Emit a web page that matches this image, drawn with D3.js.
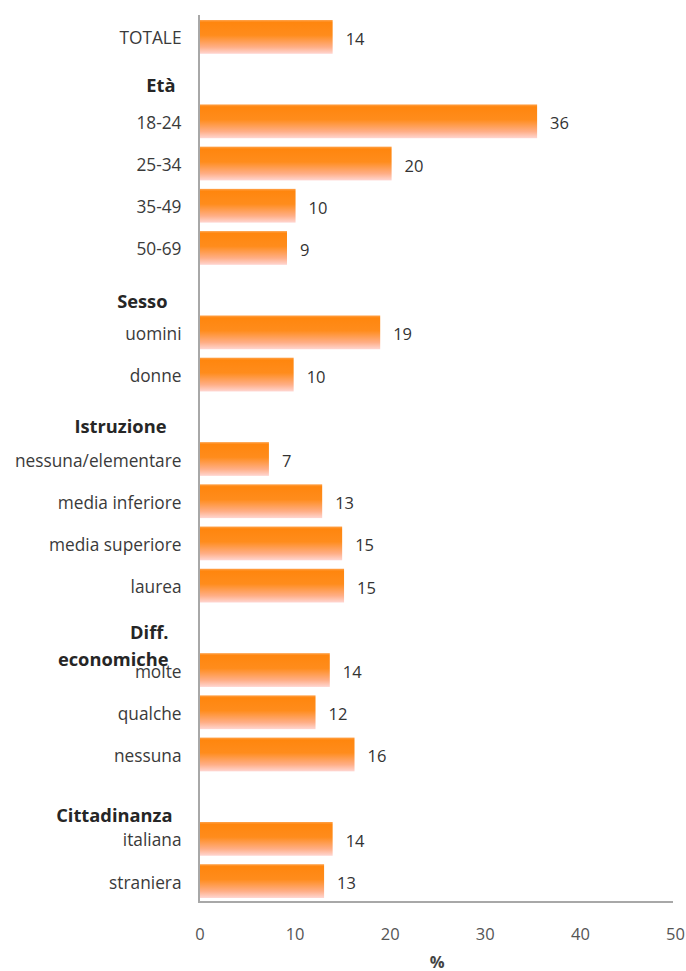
<!DOCTYPE html>
<html>
<head>
<meta charset="utf-8">
<script src="https://cdn.jsdelivr.net/npm/d3@7"></script>
<style>
  html, body { margin: 0; padding: 0; background: #fff; }
  svg { display: block; }
  text { font-family: "Open Sans", "DejaVu Sans", sans-serif; }
</style>
</head>
<body>
<div id="chart"></div>
<script>
// ---- data ----
const rows = ["TOTALE", "Età", "18-24", "25-34", "35-49", "50-69", "Sesso", "uomini", "donne",
  "Istruzione", "nessuna/elementare", "media inferiore", "media superiore", "laurea",
  "Diff. economiche", "molte", "qualche", "nessuna ", "Cittadinanza", "italiana", "straniera"];
const headers = ["Età", "Sesso", "Istruzione", "Diff. economiche", "Cittadinanza"];
const categories = ["TOTALE", "18-24", "25-34", "35-49", "50-69", "uomini", "donne",
  "nessuna/elementare", "media inferiore", "media superiore", "laurea",
  "molte", "qualche", "nessuna ", "italiana", "straniera"];
const values = [14.0, 35.5, 20.2, 10.1, 9.2, 19.0, 9.9, 7.3, 12.9, 15.0, 15.2, 13.7, 12.2, 16.3, 14.0, 13.1];
const valueLabels = ["14", "36", "20", "10", "9", "19", "10", "7", "13", "15", "15", "14", "12", "16", "14", "13"];
const xTicks = [0, 10, 20, 30, 40, 50];
const axisTitle = "%";

// ---- layout ----
const W = 686, H = 971;
const svg = d3.select("#chart").append("svg").attr("width", W).attr("height", H);

const x = d3.scaleLinear().domain([0, 50]).range([199.5, 675]);
const y = d3.scaleBand().domain(rows).range([15.8, 902.2]).paddingInner(0.2).paddingOuter(0.1);

const defs = svg.append("defs");
const grad = defs.append("linearGradient").attr("id", "barGrad")
  .attr("x1", 0).attr("y1", 0).attr("x2", 0).attr("y2", 1);
grad.append("stop").attr("offset", "0").attr("stop-color", "#ffa24a");
grad.append("stop").attr("offset", "0.07").attr("stop-color", "#ff860e");
grad.append("stop").attr("offset", "0.45").attr("stop-color", "#ff8c1c");
grad.append("stop").attr("offset", "0.8").attr("stop-color", "#ffae86");
grad.append("stop").attr("offset", "1").attr("stop-color", "#ffd6d2");

const data = categories.map((c, i) => ({ c, v: values[i], l: valueLabels[i] }));

// bars
svg.append("g").selectAll("rect").data(data).join("rect")
  .attr("x", x(0))
  .attr("y", d => y(d.c))
  .attr("width", d => x(d.v) - x(0))
  .attr("height", y.bandwidth())
  .attr("fill", "url(#barGrad)");

// value labels
svg.append("g").selectAll("text").data(data).join("text")
  .attr("x", d => x(d.v) + 13)
  .attr("y", d => y(d.c) + y.bandwidth() / 2 + 1.5)
  .attr("dominant-baseline", "central")
  .attr("font-size", 16.5)
  .attr("fill", "#333")
  .text(d => d.l);

// category labels
svg.append("g").selectAll("text").data(categories).join("text")
  .attr("x", x(0) - 18)
  .attr("y", d => y(d) + y.bandwidth() / 2 + 1)
  .attr("text-anchor", "end")
  .attr("dominant-baseline", "central")
  .attr("font-size", 17.3)
  .attr("fill", "#3a3a3a")
  .text(d => d.trim());

// header labels (slightly offset text boxes as in the original)
const headerNudge = {
  "Età": { dx: -6, dy: 5 },
  "Sesso": { dx: -14, dy: 10 },
  "Istruzione": { dx: -15, dy: 8 },
  "Diff. economiche": { dx: -13, dy: 3 },
  "Cittadinanza": { dx: -9, dy: 17 }
};
const hg = svg.append("g");
headers.forEach(h => {
  const n = headerNudge[h];
  const parts = h === "Diff. economiche" ? ["Diff.", "economiche"] : [h];
  const t = hg.append("text")
    .attr("x", x(0) - 18 + n.dx)
    .attr("y", y(h) + y.bandwidth() / 2 + n.dy)
    .attr("text-anchor", "end")
    .attr("dominant-baseline", "central")
    .attr("font-size", 18.3)
    .attr("font-weight", "bold")
    .attr("fill", "#262626");
  parts.forEach((p, i) => {
    t.append("tspan").attr("x", x(0) - 18 + n.dx).attr("dy", i === 0 ? 0 : 27).text(p);
  });
});

// axes lines
const axisColor = "#a8a8a8";
svg.append("line").attr("x1", x(0) - 0.5).attr("x2", x(0) - 0.5).attr("y1", 15).attr("y2", 903)
  .attr("stroke", axisColor).attr("stroke-width", 2);
svg.append("line").attr("x1", x(0) - 1.5).attr("x2", 673).attr("y1", 902).attr("y2", 902)
  .attr("stroke", axisColor).attr("stroke-width", 2);

// x tick labels
const xAxis = d3.axisBottom(x).tickValues(xTicks).tickSize(0).tickPadding(0);
const gx = svg.append("g").attr("transform", "translate(0, 902)").call(xAxis);
gx.select(".domain").remove();
gx.selectAll("text")
  .attr("y", 31)
  .attr("dy", null)
  .attr("dominant-baseline", "central")
  .attr("font-size", 16.5)
  .attr("font-family", "Open Sans, sans-serif")
  .attr("fill", "#555");

// axis title
svg.append("text")
  .attr("x", (x(0) + x(50)) / 2)
  .attr("y", 961)
  .attr("text-anchor", "middle")
  .attr("dominant-baseline", "central")
  .attr("font-size", 16.5)
  .attr("font-weight", "bold")
  .attr("fill", "#444")
  .text(axisTitle);
</script>
</body>
</html>
